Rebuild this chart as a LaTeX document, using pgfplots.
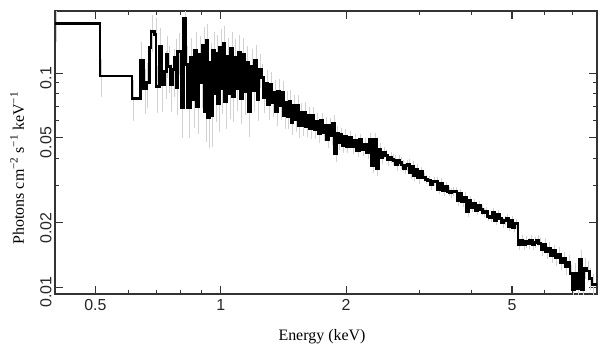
\documentclass[border=0pt]{standalone}
\usepackage{fontspec}
\setmainfont{Liberation Serif}
\setsansfont{Liberation Sans}
\usepackage{pgfplots}
\usepackage{pgfplotstable}
\pgfplotsset{compat=1.18}
\pgfplotstableread{
E F R
0.4000 0.1700 0.18
0.5130 0.0970 0.20
0.6125 0.0764 0.22
0.6410 0.1141 0.22
0.6530 0.0845 0.24
0.6620 0.0901 0.24
0.6740 0.1312 0.22
0.6800 0.1563 0.20
0.6930 0.1509 0.20
0.6995 0.0866 0.25
0.7124 0.1331 0.22
0.7192 0.0882 0.25
0.7325 0.1014 0.25
0.7395 0.1217 0.22
0.7461 0.1073 0.25
0.7561 0.0882 0.25
0.7670 0.1036 0.25
0.7743 0.1179 0.22
0.7816 0.0854 0.25
0.7885 0.1257 0.22
0.8035 0.0689 0.28
0.8137 0.1800 0.18
0.8228 0.1093 0.22
0.8334 0.0689 0.28
0.8450 0.1180 0.24
0.8560 0.0750 0.26
0.8660 0.1280 0.22
0.8760 0.0700 0.26
0.8860 0.1220 0.22
0.8960 0.0900 0.24
0.9050 0.1350 0.22
0.9140 0.0660 0.28
0.9230 0.1420 0.20
0.9310 0.0620 0.28
0.9400 0.1120 0.24
0.9480 0.0630 0.28
0.9570 0.1280 0.22
0.9660 0.0800 0.26
0.9750 0.1240 0.22
0.9840 0.0720 0.26
0.9930 0.1320 0.22
1.0030 0.0850 0.24
1.0130 0.1380 0.20
1.0230 0.0740 0.26
1.0330 0.1200 0.22
1.0440 0.0800 0.24
1.0550 0.1300 0.20
1.0660 0.0780 0.24
1.0770 0.1180 0.22
1.0890 0.0850 0.22
1.1010 0.1250 0.20
1.1130 0.0760 0.24
1.1260 0.1220 0.20
1.1390 0.0820 0.22
1.1520 0.1120 0.20
1.1650 0.0660 0.24
1.1790 0.1080 0.20
1.1930 0.0830 0.20
1.2070 0.1150 0.18
1.2210 0.0750 0.20
1.2350 0.1040 0.18
1.2500 0.0957 0.15
1.2650 0.0765 0.15
1.2800 0.0896 0.15
1.2950 0.0713 0.15
1.3100 0.0885 0.14
1.3250 0.0725 0.14
1.3400 0.0816 0.14
1.3550 0.0661 0.14
1.3700 0.0825 0.14
1.3850 0.0703 0.14
1.4000 0.0814 0.13
1.4150 0.0632 0.13
1.4300 0.0728 0.13
1.4450 0.0628 0.13
1.4600 0.0741 0.13
1.4750 0.0590 0.13
1.4900 0.0706 0.12
1.5050 0.0605 0.12
1.5200 0.0704 0.12
1.5350 0.0567 0.12
1.5500 0.0656 0.11
1.5660 0.0570 0.11
1.5820 0.0659 0.11
1.5980 0.0564 0.11
1.6150 0.0633 0.10
1.6350 0.0549 0.10
1.6550 0.0632 0.10
1.6750 0.0545 0.10
1.6950 0.0598 0.09
1.7150 0.0520 0.09
1.7350 0.0599 0.09
1.7550 0.0527 0.09
1.7750 0.0572 0.09
1.7950 0.0491 0.09
1.8150 0.0567 0.09
1.8350 0.0509 0.09
1.8550 0.0582 0.09
1.8750 0.0422 0.09
1.8950 0.0525 0.08
1.9150 0.0475 0.08
1.9350 0.0515 0.08
1.9550 0.0461 0.08
1.9750 0.0509 0.08
2.0000 0.0456 0.07
2.0300 0.0500 0.07
2.0600 0.0453 0.07
2.0900 0.0487 0.07
2.1200 0.0436 0.07
2.1500 0.0488 0.07
2.1800 0.0439 0.07
2.2100 0.0467 0.07
2.2400 0.0427 0.07
2.2700 0.0490 0.07
2.3000 0.0370 0.08
2.3300 0.0489 0.07
2.3600 0.0359 0.08
2.3900 0.0441 0.07
2.4200 0.0403 0.07
2.4500 0.0425 0.06
2.4800 0.0412 0.06
2.5100 0.0394 0.06
2.5400 0.0405 0.06
2.5700 0.0396 0.06
2.6000 0.0392 0.06
2.6300 0.0372 0.06
2.6600 0.0390 0.06
2.6900 0.0381 0.06
2.7200 0.0372 0.06
2.7500 0.0360 0.06
2.7800 0.0371 0.06
2.8100 0.0374 0.06
2.8400 0.0342 0.06
2.8700 0.0366 0.06
2.9000 0.0333 0.06
2.9350 0.0356 0.06
2.9700 0.0324 0.06
3.0050 0.0346 0.05
3.0500 0.0325 0.05
3.0950 0.0318 0.05
3.1400 0.0316 0.05
3.1850 0.0300 0.05
3.2300 0.0312 0.05
3.2750 0.0313 0.05
3.3200 0.0287 0.05
3.3650 0.0307 0.05
3.4100 0.0282 0.05
3.4550 0.0296 0.05
3.5000 0.0280 0.05
3.5450 0.0276 0.05
3.5900 0.0280 0.05
3.6400 0.0279 0.05
3.6900 0.0253 0.05
3.7400 0.0275 0.05
3.7900 0.0250 0.05
3.8400 0.0264 0.05
3.8900 0.0225 0.05
3.9400 0.0254 0.05
3.9900 0.0236 0.05
4.0400 0.0247 0.05
4.0900 0.0228 0.05
4.1450 0.0240 0.05
4.2000 0.0230 0.05
4.2550 0.0224 0.05
4.3100 0.0225 0.05
4.3650 0.0214 0.05
4.4200 0.0212 0.05
4.4800 0.0224 0.05
4.5400 0.0205 0.05
4.6000 0.0218 0.05
4.6600 0.0209 0.05
4.7200 0.0200 0.05
4.7800 0.0205 0.05
4.8400 0.0209 0.05
4.9000 0.0193 0.05
4.9600 0.0205 0.05
5.0200 0.0190 0.05
5.0800 0.0198 0.05
5.1700 0.0158 0.06
5.2400 0.0165 0.06
5.3100 0.0159 0.06
5.3800 0.0163 0.06
5.4500 0.0160 0.06
5.5200 0.0165 0.06
5.5900 0.0158 0.06
5.6600 0.0162 0.06
5.7300 0.0165 0.06
5.8000 0.0160 0.06
5.8700 0.0150 0.07
5.9500 0.0158 0.07
6.0300 0.0146 0.07
6.1100 0.0152 0.07
6.1900 0.0140 0.07
6.2700 0.0148 0.07
6.3500 0.0137 0.08
6.4400 0.0143 0.08
6.5300 0.0131 0.08
6.6200 0.0136 0.08
6.7100 0.0125 0.09
6.8000 0.0130 0.09
6.8900 0.0116 0.10
6.9800 0.0098 0.12
7.0600 0.0116 0.12
7.1500 0.0099 0.12
7.2600 0.0135 0.11
7.3500 0.0098 0.12
7.4400 0.0123 0.11
7.5600 0.0119 0.11
7.6600 0.0110 0.12
7.7800 0.0103 0.12
8.0000 0.0103 0.00
}\spec

\begin{document}
\begin{tikzpicture}
\path[use as bounding box] (0,0) rectangle (609bp,357bp);
\begin{axis}[
  at={(55bp,63bp)}, anchor=south west,
  scale only axis, width=542bp, height=283bp,
  xmode=log, ymode=log,
  xmin=0.4, xmax=8, ymin=0.0093, ymax=0.195,
  xtick={0.5,1,2,5}, xticklabels={0.5,1,2,5},
  minor xtick={0.6,0.7,0.8,0.9,3,4,6,7},
  ytick={0.01,0.02,0.05,0.1}, yticklabels={0.01,0.02,0.05,0.1},
  minor ytick={0.03,0.04,0.06,0.07,0.08,0.09},
  tick align=inside, tick pos=both,
  xticklabel pos=lower, yticklabel pos=left,
  major tick length=8bp, minor tick length=4.5bp,
  axis line style={black!80, line width=1.3bp},
  every tick/.style={black!80, line width=1.1bp},
  ticklabel style={font=\sffamily\fontsize{16}{16}\selectfont, black!85},
  yticklabel style={rotate=90, anchor=south, xshift=-5bp},
  xticklabel style={anchor=north, yshift=-2bp},
  label style={font=\fontsize{16}{18}\selectfont},
  xlabel={Energy (keV)},
  xlabel style={at={(axis description cs:0.4926,-0.152)}, anchor=center},
  ylabel={Photons cm\textsuperscript{−2} s\textsuperscript{−1} keV\textsuperscript{−1}},
  ylabel style={at={(axis description cs:-0.070,0.445)}, anchor=center},
  clip=true,
]
\addplot[draw=none, forget plot,
  error bars/.cd, y dir=both, y explicit relative,
  error mark=none, error bar style={draw=gray!35, line width=0.7bp}]
  table[x expr=\thisrow{E}*1.008, y=F, y error=R]{\spec};
\addplot[const plot, black, line width=2.8bp] table[x=E, y=F]{\spec};
\end{axis}
\end{tikzpicture}
\end{document}
